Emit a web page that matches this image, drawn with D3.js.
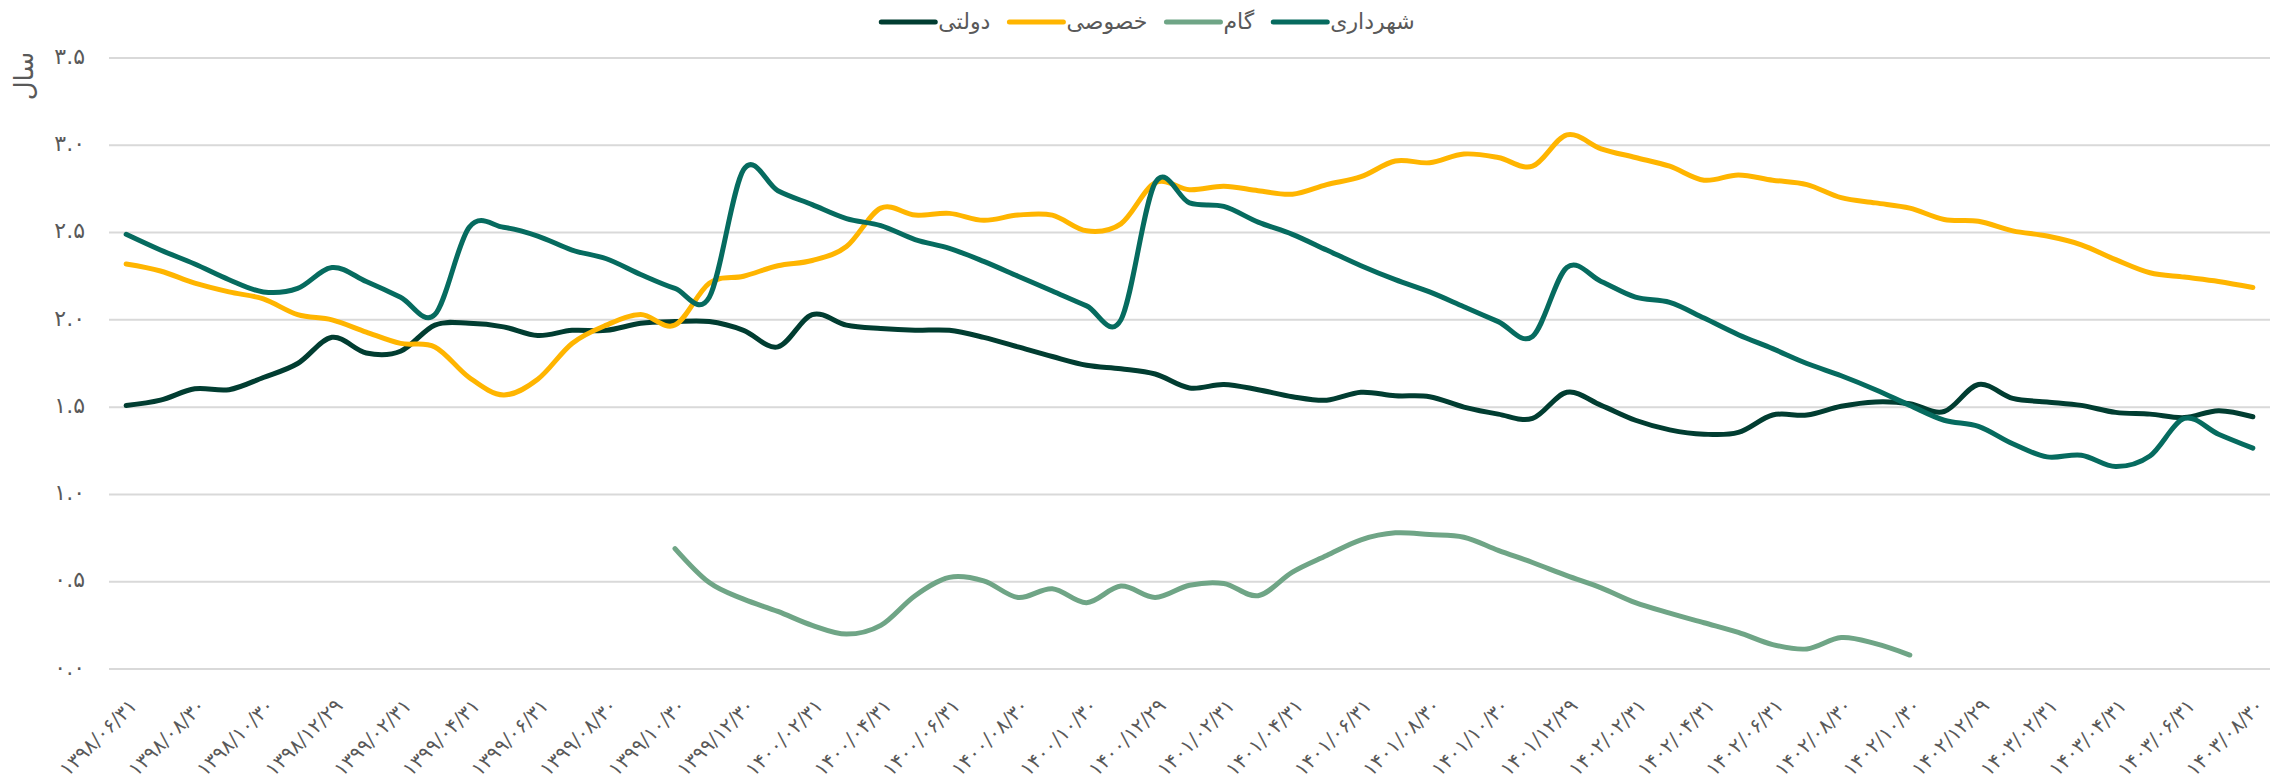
<!DOCTYPE html>
<meta charset="utf-8">
<body style="margin:0;background:#fff">
<div id="chart"></div>
<script src="https://cdn.jsdelivr.net/npm/d3@7/dist/d3.min.js"></script>
<script>

// monthly categories (persian calendar), every second one is labelled
var months = [
  "۱۳۹۸/۰۶/۳۱","۱۳۹۸/۰۷/۳۰","۱۳۹۸/۰۸/۳۰","۱۳۹۸/۰۹/۳۰","۱۳۹۸/۱۰/۳۰","۱۳۹۸/۱۱/۳۰","۱۳۹۸/۱۲/۲۹",
  "۱۳۹۹/۰۱/۳۱","۱۳۹۹/۰۲/۳۱","۱۳۹۹/۰۳/۳۱","۱۳۹۹/۰۴/۳۱","۱۳۹۹/۰۵/۳۱","۱۳۹۹/۰۶/۳۱",
  "۱۳۹۹/۰۷/۳۰","۱۳۹۹/۰۸/۳۰","۱۳۹۹/۰۹/۳۰","۱۳۹۹/۱۰/۳۰","۱۳۹۹/۱۱/۳۰","۱۳۹۹/۱۲/۳۰",
  "۱۴۰۰/۰۱/۳۱","۱۴۰۰/۰۲/۳۱","۱۴۰۰/۰۳/۳۱","۱۴۰۰/۰۴/۳۱","۱۴۰۰/۰۵/۳۱","۱۴۰۰/۰۶/۳۱",
  "۱۴۰۰/۰۷/۳۰","۱۴۰۰/۰۸/۳۰","۱۴۰۰/۰۹/۳۰","۱۴۰۰/۱۰/۳۰","۱۴۰۰/۱۱/۳۰","۱۴۰۰/۱۲/۲۹",
  "۱۴۰۱/۰۱/۳۱","۱۴۰۱/۰۲/۳۱","۱۴۰۱/۰۳/۳۱","۱۴۰۱/۰۴/۳۱","۱۴۰۱/۰۵/۳۱","۱۴۰۱/۰۶/۳۱",
  "۱۴۰۱/۰۷/۳۰","۱۴۰۱/۰۸/۳۰","۱۴۰۱/۰۹/۳۰","۱۴۰۱/۱۰/۳۰","۱۴۰۱/۱۱/۳۰","۱۴۰۱/۱۲/۲۹",
  "۱۴۰۲/۰۱/۳۱","۱۴۰۲/۰۲/۳۱","۱۴۰۲/۰۳/۳۱","۱۴۰۲/۰۴/۳۱","۱۴۰۲/۰۵/۳۱","۱۴۰۲/۰۶/۳۱",
  "۱۴۰۲/۰۷/۳۰","۱۴۰۲/۰۸/۳۰","۱۴۰۲/۰۹/۳۰","۱۴۰۲/۱۰/۳۰","۱۴۰۲/۱۱/۳۰","۱۴۰۲/۱۲/۲۹",
  "۱۴۰۳/۰۱/۳۱","۱۴۰۳/۰۲/۳۱","۱۴۰۳/۰۳/۳۱","۱۴۰۳/۰۴/۳۱","۱۴۰۳/۰۵/۳۱","۱۴۰۳/۰۶/۳۱",
  "۱۴۰۳/۰۷/۳۰","۱۴۰۳/۰۸/۳۰"
];

var dolati = [1.51, 1.54, 1.605, 1.60, 1.67, 1.75, 1.90, 1.81, 1.82, 1.97, 1.98, 1.96, 1.91,
  1.94, 1.94, 1.98, 1.99, 1.99, 1.94, 1.845, 2.03, 1.97, 1.95, 1.94, 1.94,
  1.90, 1.845, 1.79, 1.74, 1.72, 1.69, 1.61, 1.63, 1.60, 1.56, 1.54, 1.585,
  1.565, 1.56, 1.50, 1.46, 1.435, 1.585, 1.51, 1.425, 1.37, 1.345, 1.355, 1.455, 1.455,
  1.505, 1.53, 1.52, 1.475, 1.63, 1.55, 1.53, 1.51, 1.47, 1.46, 1.44, 1.48, 1.445];

var khosoosi = [2.32, 2.28, 2.21, 2.16, 2.12, 2.03, 2.00, 1.93, 1.865, 1.845, 1.67, 1.57, 1.66,
  1.865, 1.97, 2.03, 1.97, 2.21, 2.25, 2.31, 2.34, 2.42, 2.64, 2.60, 2.61,
  2.57, 2.60, 2.60, 2.51, 2.55, 2.785, 2.745, 2.765, 2.74, 2.72, 2.775, 2.82,
  2.91, 2.90, 2.95, 2.93, 2.88, 3.06, 2.98, 2.93, 2.88, 2.80, 2.83, 2.80, 2.775,
  2.70, 2.67, 2.64, 2.575, 2.565, 2.51, 2.48, 2.43, 2.345, 2.27, 2.245, 2.22, 2.185];

var gam = [null, null, null, null, null, null, null, null, null, null, null, null, null,
  null, null, null, 0.69, 0.495, 0.40, 0.33, 0.25, 0.20, 0.25, 0.42, 0.525,
  0.505, 0.41, 0.46, 0.38, 0.475, 0.41, 0.48, 0.49, 0.42, 0.555, 0.65, 0.74,
  0.78, 0.77, 0.755, 0.68, 0.61, 0.535, 0.465, 0.38, 0.32, 0.265, 0.21, 0.14, 0.115,
  0.18, 0.145, 0.08, null, null, null, null, null, null, null, null, null, null];

var shahrdari = [2.49, 2.40, 2.32, 2.23, 2.16, 2.18, 2.30, 2.22, 2.13, 2.03, 2.53, 2.53, 2.48,
  2.40, 2.35, 2.26, 2.18, 2.13, 2.86, 2.74, 2.66, 2.58, 2.54, 2.46, 2.41,
  2.335, 2.25, 2.165, 2.08, 2.00, 2.785, 2.67, 2.65, 2.56, 2.49, 2.40, 2.31,
  2.23, 2.16, 2.075, 1.99, 1.905, 2.30, 2.22, 2.13, 2.10, 2.01, 1.915, 1.835, 1.75,
  1.68, 1.60, 1.51, 1.425, 1.39, 1.29, 1.215, 1.225, 1.16, 1.22, 1.435, 1.345, 1.265];

var seriesNames = ["دولتی", "خصوصی", "گام", "شهرداری"];
var seriesColors = ["#013d31", "#ffb500", "#6fa586", "#066b5f"];
var yTicks = [0, 0.5, 1, 1.5, 2, 2.5, 3, 3.5];
var yTickLabels = ["۰.۰", "۰.۵", "۱.۰", "۱.۵", "۲.۰", "۲.۵", "۳.۰", "۳.۵"];

var w = 2277, h = 784;
var font = "'DejaVu Sans', sans-serif";
var textColor = "#595959";

var svg = d3.select("#chart")
    .append("svg")
    .attr("width", w)
    .attr("height", h)
    .style("display", "block");

var x = d3.scalePoint()
    .domain(d3.range(months.length))
    .range([109, 2270])
    .padding(0.5);

var y = d3.scaleLinear()
    .domain([0, 3.5])
    .range([669, 58]);

// gridlines
svg.append("g")
    .selectAll("line")
    .data(yTicks)
    .enter()
    .append("line")
    .attr("x1", 109)
    .attr("x2", 2270)
    .attr("y1", function(d) {return y(d);})
    .attr("y2", function(d) {return y(d);})
    .attr("stroke", "#d9d9d9")
    .attr("stroke-width", 2);

// y tick labels
svg.append("g")
    .selectAll("text")
    .data(yTicks)
    .enter()
    .append("text")
    .text(function(d, i) {return yTickLabels[i];})
    .attr("x", 85)
    .attr("y", function(d) {return y(d) - 2;})
    .attr("dy", "0.35em")
    .attr("text-anchor", "end")
    .attr("font-family", font)
    .attr("font-size", 22)
    .attr("fill", textColor);

// y axis title
svg.append("text")
    .text("سال")
    .attr("transform", "translate(33,76) rotate(-90)")
    .attr("text-anchor", "middle")
    .attr("font-family", font)
    .attr("font-size", 26)
    .attr("fill", textColor);

// x labels, every second month
svg.append("g")
    .selectAll("text")
    .data(months)
    .enter()
    .filter(function(d, i) {return i % 2 == 0;})
    .append("text")
    .text(function(d) {return d;})
    .attr("transform", function(d) {return "translate(" + (x(months.indexOf(d)) + 7) + ",702) rotate(-45)";})
    .attr("dy", "0.35em")
    .attr("text-anchor", "end")
    .attr("font-family", font)
    .attr("font-size", 20)
    .attr("fill", textColor);

var allSeries = [dolati, khosoosi, gam, shahrdari];

var line = d3.line()
    .defined(function(d) {return d != null;})
    .x(function(d, i) {return x(i);})
    .y(function(d) {return y(d);})
    .curve(d3.curveCatmullRom.alpha(0));

svg.append("g")
    .selectAll("path")
    .data(allSeries)
    .enter()
    .append("path")
    .attr("d", function(d) {return line(d);})
    .attr("fill", "none")
    .attr("stroke", function(d, i) {return seriesColors[i];})
    .attr("stroke-width", 5)
    .attr("stroke-linecap", "round")
    .attr("stroke-linejoin", "round");

// legend, laid out left to right and centred
var legend = svg.append("g");
var items = legend.selectAll("g")
    .data(seriesNames)
    .enter()
    .append("g");

items.append("line")
    .attr("x1", 0)
    .attr("x2", 54)
    .attr("y1", 22)
    .attr("y2", 22)
    .attr("stroke", function(d, i) {return seriesColors[i];})
    .attr("stroke-width", 5)
    .attr("stroke-linecap", "round");

items.append("text")
    .text(function(d) {return d;})
    .attr("x", 57)
    .attr("y", 22)
    .attr("dy", "0.3em")
    .attr("font-family", font)
    .attr("font-size", 22)
    .attr("fill", textColor);

var pos = 0;
items.each(function() {
    var tw = d3.select(this).select("text").node().getComputedTextLength();
    d3.select(this).attr("transform", "translate(" + pos + ",0)");
    pos += 57 + tw + 19;
});
pos -= 19;
legend.attr("transform", "translate(" + (1148 - pos / 2) + ",0)");

</script>
